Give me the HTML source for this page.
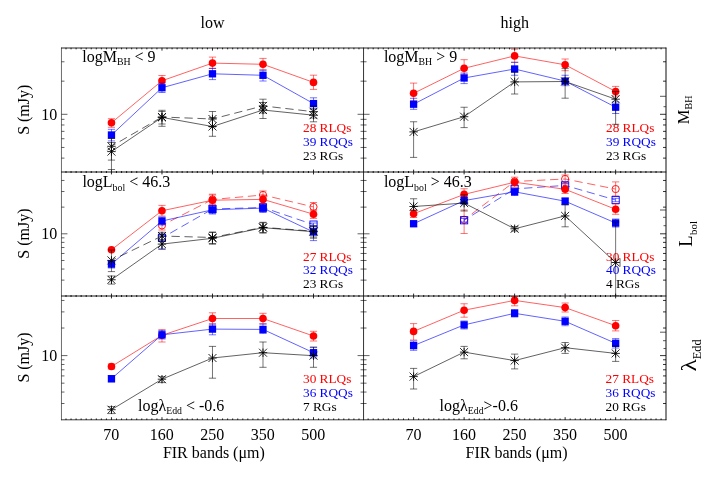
<!DOCTYPE html>
<html><head><meta charset="utf-8"><title>FIR bands</title>
<style>html,body{margin:0;padding:0;background:#fff;}svg{display:block;will-change:transform;}text{font-family:"Liberation Serif",serif;}</style>
</head><body>
<svg width="720" height="480" viewBox="0 0 720 480">
<rect x="0" y="0" width="720" height="480" fill="#ffffff"/>
<text x="212.6" y="28" font-size="16" fill="#000000" text-anchor="middle">low</text>
<text x="514.8" y="28" font-size="16" fill="#000000" text-anchor="middle">high</text>
<text x="0" y="0" font-size="16" fill="#000000" text-anchor="middle" transform="translate(28.6 109.75) rotate(-90)">S (mJy)</text>
<text x="57.2" y="119.7" font-size="16" fill="#000000" text-anchor="end">10</text>
<text x="0" y="0" font-size="16" fill="#000000" text-anchor="middle" transform="translate(28.6 233.65) rotate(-90)">S (mJy)</text>
<text x="57.2" y="239.2" font-size="16" fill="#000000" text-anchor="end">10</text>
<text x="0" y="0" font-size="16" fill="#000000" text-anchor="middle" transform="translate(28.6 357.5) rotate(-90)">S (mJy)</text>
<text x="57.2" y="361" font-size="16" fill="#000000" text-anchor="end">10</text>
<text x="111.26" y="440.1" font-size="16" fill="#000000" text-anchor="middle">70</text>
<text x="161.77" y="440.1" font-size="16" fill="#000000" text-anchor="middle">160</text>
<text x="212.28" y="440.1" font-size="16" fill="#000000" text-anchor="middle">250</text>
<text x="262.79" y="440.1" font-size="16" fill="#000000" text-anchor="middle">350</text>
<text x="313.3" y="440.1" font-size="16" fill="#000000" text-anchor="middle">500</text>
<text x="413.4" y="440.1" font-size="16" fill="#000000" text-anchor="middle">70</text>
<text x="463.91" y="440.1" font-size="16" fill="#000000" text-anchor="middle">160</text>
<text x="514.42" y="440.1" font-size="16" fill="#000000" text-anchor="middle">250</text>
<text x="564.93" y="440.1" font-size="16" fill="#000000" text-anchor="middle">350</text>
<text x="615.44" y="440.1" font-size="16" fill="#000000" text-anchor="middle">500</text>
<text x="162.9" y="457.6" font-size="16" fill="#000000" text-anchor="start">FIR bands (μm)</text>
<text x="465.6" y="457.6" font-size="16" fill="#000000" text-anchor="start">FIR bands (μm)</text>
<text x="82.3" y="61.5" font-size="16" fill="#000000" text-anchor="start">logM<tspan font-size="9.8" dy="3.7">BH</tspan><tspan dy="-3.7"> &lt; 9</tspan></text>
<text x="383.9" y="61.5" font-size="16" fill="#000000" text-anchor="start">logM<tspan font-size="9.8" dy="3.7">BH</tspan><tspan dy="-3.7"> &gt; 9</tspan></text>
<text x="82.4" y="187" font-size="16" fill="#000000" text-anchor="start">logL<tspan font-size="9.8" dy="3.7">bol</tspan><tspan dy="-3.7"> &lt; 46.3</tspan></text>
<text x="383.9" y="187" font-size="16" fill="#000000" text-anchor="start">logL<tspan font-size="9.8" dy="3.7">bol</tspan><tspan dy="-3.7"> &gt; 46.3</tspan></text>
<text x="138" y="410.8" font-size="16" fill="#000000" text-anchor="start">logλ<tspan font-size="9.8" dy="3">Edd</tspan><tspan dy="-3"> &lt; -0.6</tspan></text>
<text x="439.6" y="410.6" font-size="16" fill="#000000" text-anchor="start">logλ<tspan font-size="9.8" dy="3">Edd</tspan><tspan dy="-3">&gt;-0.6</tspan></text>
<text x="303" y="131.5" font-size="13.3" fill="#ff0000" text-anchor="start">28 RLQs</text>
<text x="303" y="145.5" font-size="13.3" fill="#0000ff" text-anchor="start">39 RQQs</text>
<text x="303" y="159.5" font-size="13.3" fill="#000000" text-anchor="start">23 RGs</text>
<text x="606" y="131.5" font-size="13.3" fill="#ff0000" text-anchor="start">28 RLQs</text>
<text x="606" y="145.5" font-size="13.3" fill="#0000ff" text-anchor="start">39 RQQs</text>
<text x="606" y="159.5" font-size="13.3" fill="#000000" text-anchor="start">23 RGs</text>
<text x="303" y="260.9" font-size="13.3" fill="#ff0000" text-anchor="start">27 RLQs</text>
<text x="303" y="274.4" font-size="13.3" fill="#0000ff" text-anchor="start">32 RQQs</text>
<text x="303" y="287.7" font-size="13.3" fill="#000000" text-anchor="start">23 RGs</text>
<text x="606" y="260.9" font-size="13.3" fill="#ff0000" text-anchor="start">30 RLQs</text>
<text x="606" y="274.4" font-size="13.3" fill="#0000ff" text-anchor="start">40 RQQs</text>
<text x="606" y="287.7" font-size="13.3" fill="#000000" text-anchor="start">4 RGs</text>
<text x="303" y="383.4" font-size="13.3" fill="#ff0000" text-anchor="start">30 RLQs</text>
<text x="303" y="396.9" font-size="13.3" fill="#0000ff" text-anchor="start">36 RQQs</text>
<text x="303" y="410.6" font-size="13.3" fill="#000000" text-anchor="start">7 RGs</text>
<text x="605.6" y="383.2" font-size="13.3" fill="#ff0000" text-anchor="start">27 RLQs</text>
<text x="605.6" y="396.8" font-size="13.3" fill="#0000ff" text-anchor="start">36 RQQs</text>
<text x="605.6" y="410.5" font-size="13.3" fill="#000000" text-anchor="start">20 RGs</text>
<text x="0" y="0" font-size="16.5" fill="#000000" text-anchor="start" transform="translate(689.3 124.2) rotate(-90)">M<tspan font-size="10" dy="2.8">BH</tspan></text>
<text x="0" y="0" font-size="18.5" fill="#000000" text-anchor="start" transform="translate(691.9 246.7) rotate(-90)">L</text>
<text x="0" y="0" font-size="10.8" fill="#000000" text-anchor="start" transform="translate(696.6 234.9) rotate(-90)">bol</text>
<text x="0" y="0" font-size="20" fill="#000000" text-anchor="start" transform="translate(695.7 371.5) rotate(-90) scale(1.27 1)">λ</text>
<text x="0" y="0" font-size="12.3" fill="#000000" text-anchor="start" transform="translate(700.5 359.2) rotate(-90)">Edd</text>
<path d="M111.46 122.8 L161.97 80.75 L212.48 63.1 L262.99 64.3 L313.5 82.4" stroke="#ff0000" stroke-width="0.62" fill="none"/>
<path d="M111.46 118.7 V127.3 M107.86 118.7 h7.2 M107.86 127.3 h7.2" stroke="#ff0000" stroke-width="0.55" fill="none"/>
<path d="M161.97 75.5 V86 M158.37 75.5 h7.2 M158.37 86 h7.2" stroke="#ff0000" stroke-width="0.55" fill="none"/>
<path d="M212.48 57.1 V68.4 M208.88 57.1 h7.2 M208.88 68.4 h7.2" stroke="#ff0000" stroke-width="0.55" fill="none"/>
<path d="M262.99 58.4 V69.7 M259.39 58.4 h7.2 M259.39 69.7 h7.2" stroke="#ff0000" stroke-width="0.55" fill="none"/>
<path d="M313.5 75.2 V89.4 M309.9 75.2 h7.2 M309.9 89.4 h7.2" stroke="#ff0000" stroke-width="0.55" fill="none"/>
<circle cx="111.46" cy="122.8" r="3.8" fill="#ff0000"/>
<circle cx="161.97" cy="80.75" r="3.8" fill="#ff0000"/>
<circle cx="212.48" cy="63.1" r="3.8" fill="#ff0000"/>
<circle cx="262.99" cy="64.3" r="3.8" fill="#ff0000"/>
<circle cx="313.5" cy="82.4" r="3.8" fill="#ff0000"/>
<path d="M111.46 135 L161.97 87.75 L212.48 73.8 L262.99 75.3 L313.5 103.6" stroke="#0000ff" stroke-width="0.62" fill="none"/>
<path d="M111.46 129.3 V140.9 M107.86 129.3 h7.2 M107.86 140.9 h7.2" stroke="#0000ff" stroke-width="0.55" fill="none"/>
<path d="M161.97 83 V92.5 M158.37 83 h7.2 M158.37 92.5 h7.2" stroke="#0000ff" stroke-width="0.55" fill="none"/>
<path d="M212.48 68.4 V79.6 M208.88 68.4 h7.2 M208.88 79.6 h7.2" stroke="#0000ff" stroke-width="0.55" fill="none"/>
<path d="M262.99 70.3 V81 M259.39 70.3 h7.2 M259.39 81 h7.2" stroke="#0000ff" stroke-width="0.55" fill="none"/>
<path d="M313.5 97.8 V109 M309.9 97.8 h7.2 M309.9 109 h7.2" stroke="#0000ff" stroke-width="0.55" fill="none"/>
<rect x="107.81" y="131.35" width="7.3" height="7.3" fill="#0000ff"/>
<rect x="158.32" y="84.1" width="7.3" height="7.3" fill="#0000ff"/>
<rect x="208.83" y="70.15" width="7.3" height="7.3" fill="#0000ff"/>
<rect x="259.34" y="71.65" width="7.3" height="7.3" fill="#0000ff"/>
<rect x="309.85" y="99.95" width="7.3" height="7.3" fill="#0000ff"/>
<path d="M111.46 146.3 L161.97 117" stroke="#000000" stroke-width="0.62" fill="none" stroke-dasharray="8.3 4.7" stroke-dashoffset="3.5"/>
<path d="M161.97 117 L212.48 119" stroke="#000000" stroke-width="0.62" fill="none" stroke-dasharray="8.3 4.7" stroke-dashoffset="3.5"/>
<path d="M212.48 119 L262.99 105.9" stroke="#000000" stroke-width="0.62" fill="none" stroke-dasharray="8.3 4.7" stroke-dashoffset="3.5"/>
<path d="M262.99 105.9 L313.5 111.7" stroke="#000000" stroke-width="0.62" fill="none" stroke-dasharray="8.3 4.7" stroke-dashoffset="3.5"/>
<path d="M111.46 138.5 V160.1 M107.86 138.5 h7.2 M107.86 160.1 h7.2" stroke="#000000" stroke-width="0.55" fill="none"/>
<path d="M161.97 111.5 V124 M158.37 111.5 h7.2 M158.37 124 h7.2" stroke="#000000" stroke-width="0.55" fill="none"/>
<path d="M212.48 111.5 V127 M208.88 111.5 h7.2 M208.88 127 h7.2" stroke="#000000" stroke-width="0.55" fill="none"/>
<path d="M262.99 99.2 V113 M259.39 99.2 h7.2 M259.39 113 h7.2" stroke="#000000" stroke-width="0.55" fill="none"/>
<path d="M313.5 106 V118 M309.9 106 h7.2 M309.9 118 h7.2" stroke="#000000" stroke-width="0.55" fill="none"/>
<path d="M107.26 146.3 h8.4 M111.46 142.1 v8.4 M107.47 142.31 l7.98 7.98 M107.47 150.29 l7.98 -7.98" stroke="#000000" stroke-width="0.85" fill="none"/>
<path d="M157.77 117 h8.4 M161.97 112.8 v8.4 M157.98 113.01 l7.98 7.98 M157.98 120.99 l7.98 -7.98" stroke="#000000" stroke-width="0.85" fill="none"/>
<path d="M208.28 119 h8.4 M212.48 114.8 v8.4 M208.49 115.01 l7.98 7.98 M208.49 122.99 l7.98 -7.98" stroke="#000000" stroke-width="0.85" fill="none"/>
<path d="M258.79 105.9 h8.4 M262.99 101.7 v8.4 M259 101.91 l7.98 7.98 M259 109.89 l7.98 -7.98" stroke="#000000" stroke-width="0.85" fill="none"/>
<path d="M309.3 111.7 h8.4 M313.5 107.5 v8.4 M309.51 107.71 l7.98 7.98 M309.51 115.69 l7.98 -7.98" stroke="#000000" stroke-width="0.85" fill="none"/>
<path d="M111.46 151.6 L161.97 117.4 L212.48 126.5 L262.99 110 L313.5 115.2" stroke="#000000" stroke-width="0.62" fill="none"/>
<path d="M111.46 142.5 V169.5 M107.86 142.5 h7.2 M107.86 169.5 h7.2" stroke="#000000" stroke-width="0.55" fill="none"/>
<path d="M161.97 110.3 V126.3 M158.37 110.3 h7.2 M158.37 126.3 h7.2" stroke="#000000" stroke-width="0.55" fill="none"/>
<path d="M212.48 117.5 V136.3 M208.88 117.5 h7.2 M208.88 136.3 h7.2" stroke="#000000" stroke-width="0.55" fill="none"/>
<path d="M262.99 102.5 V118.5 M259.39 102.5 h7.2 M259.39 118.5 h7.2" stroke="#000000" stroke-width="0.55" fill="none"/>
<path d="M313.5 109 V121.8 M309.9 109 h7.2 M309.9 121.8 h7.2" stroke="#000000" stroke-width="0.55" fill="none"/>
<path d="M107.26 151.6 h8.4 M111.46 147.4 v8.4 M107.47 147.61 l7.98 7.98 M107.47 155.59 l7.98 -7.98" stroke="#000000" stroke-width="0.85" fill="none"/>
<path d="M157.77 117.4 h8.4 M161.97 113.2 v8.4 M157.98 113.41 l7.98 7.98 M157.98 121.39 l7.98 -7.98" stroke="#000000" stroke-width="0.85" fill="none"/>
<path d="M208.28 126.5 h8.4 M212.48 122.3 v8.4 M208.49 122.51 l7.98 7.98 M208.49 130.49 l7.98 -7.98" stroke="#000000" stroke-width="0.85" fill="none"/>
<path d="M258.79 110 h8.4 M262.99 105.8 v8.4 M259 106.01 l7.98 7.98 M259 113.99 l7.98 -7.98" stroke="#000000" stroke-width="0.85" fill="none"/>
<path d="M309.3 115.2 h8.4 M313.5 111 v8.4 M309.51 111.21 l7.98 7.98 M309.51 119.19 l7.98 -7.98" stroke="#000000" stroke-width="0.85" fill="none"/>
<path d="M413.6 93.3 L464.11 68.3 L514.62 55.9 L565.13 64.8 L615.64 91.5" stroke="#ff0000" stroke-width="0.62" fill="none"/>
<path d="M413.6 83.1 V101 M410 83.1 h7.2 M410 101 h7.2" stroke="#ff0000" stroke-width="0.55" fill="none"/>
<path d="M464.11 59.7 V74.2 M460.51 59.7 h7.2 M460.51 74.2 h7.2" stroke="#ff0000" stroke-width="0.55" fill="none"/>
<path d="M514.62 49.2 V62.3 M511.02 49.2 h7.2 M511.02 62.3 h7.2" stroke="#ff0000" stroke-width="0.55" fill="none"/>
<path d="M565.13 59 V70.7 M561.53 59 h7.2 M561.53 70.7 h7.2" stroke="#ff0000" stroke-width="0.55" fill="none"/>
<path d="M615.64 86.4 V96 M612.04 86.4 h7.2 M612.04 96 h7.2" stroke="#ff0000" stroke-width="0.55" fill="none"/>
<circle cx="413.6" cy="93.3" r="3.8" fill="#ff0000"/>
<circle cx="464.11" cy="68.3" r="3.8" fill="#ff0000"/>
<circle cx="514.62" cy="55.9" r="3.8" fill="#ff0000"/>
<circle cx="565.13" cy="64.8" r="3.8" fill="#ff0000"/>
<circle cx="615.64" cy="91.5" r="3.8" fill="#ff0000"/>
<path d="M413.6 104.2 L464.11 78 L514.62 69 L565.13 81.1 L615.64 107.2" stroke="#0000ff" stroke-width="0.62" fill="none"/>
<path d="M413.6 98.3 V109.3 M410 98.3 h7.2 M410 109.3 h7.2" stroke="#0000ff" stroke-width="0.55" fill="none"/>
<path d="M464.11 73 V83.6 M460.51 73 h7.2 M460.51 83.6 h7.2" stroke="#0000ff" stroke-width="0.55" fill="none"/>
<path d="M514.62 62.3 V75.25 M511.02 62.3 h7.2 M511.02 75.25 h7.2" stroke="#0000ff" stroke-width="0.55" fill="none"/>
<path d="M565.13 75.25 V85.7 M561.53 75.25 h7.2 M561.53 85.7 h7.2" stroke="#0000ff" stroke-width="0.55" fill="none"/>
<path d="M615.64 101.9 V113.5 M612.04 101.9 h7.2 M612.04 113.5 h7.2" stroke="#0000ff" stroke-width="0.55" fill="none"/>
<rect x="409.95" y="100.55" width="7.3" height="7.3" fill="#0000ff"/>
<rect x="460.46" y="74.35" width="7.3" height="7.3" fill="#0000ff"/>
<rect x="510.97" y="65.35" width="7.3" height="7.3" fill="#0000ff"/>
<rect x="561.48" y="77.45" width="7.3" height="7.3" fill="#0000ff"/>
<rect x="611.99" y="103.55" width="7.3" height="7.3" fill="#0000ff"/>
<path d="M413.6 131.9 L464.11 116.7 L514.62 81.9 L565.13 81.5 L615.64 99.2" stroke="#000000" stroke-width="0.62" fill="none"/>
<path d="M413.6 121.75 V157.4 M410 121.75 h7.2 M410 157.4 h7.2" stroke="#000000" stroke-width="0.55" fill="none"/>
<path d="M464.11 107.25 V127.6 M460.51 107.25 h7.2 M460.51 127.6 h7.2" stroke="#000000" stroke-width="0.55" fill="none"/>
<path d="M514.62 72 V94 M511.02 72 h7.2 M511.02 94 h7.2" stroke="#000000" stroke-width="0.55" fill="none"/>
<path d="M565.13 68.6 V98.2 M561.53 68.6 h7.2 M561.53 98.2 h7.2" stroke="#000000" stroke-width="0.55" fill="none"/>
<path d="M615.64 91.5 V124.3 M612.04 91.5 h7.2 M612.04 124.3 h7.2" stroke="#000000" stroke-width="0.55" fill="none"/>
<path d="M409.4 131.9 h8.4 M413.6 127.7 v8.4 M409.61 127.91 l7.98 7.98 M409.61 135.89 l7.98 -7.98" stroke="#000000" stroke-width="0.85" fill="none"/>
<path d="M459.91 116.7 h8.4 M464.11 112.5 v8.4 M460.12 112.71 l7.98 7.98 M460.12 120.69 l7.98 -7.98" stroke="#000000" stroke-width="0.85" fill="none"/>
<path d="M510.42 81.9 h8.4 M514.62 77.7 v8.4 M510.63 77.91 l7.98 7.98 M510.63 85.89 l7.98 -7.98" stroke="#000000" stroke-width="0.85" fill="none"/>
<path d="M560.93 81.5 h8.4 M565.13 77.3 v8.4 M561.14 77.51 l7.98 7.98 M561.14 85.49 l7.98 -7.98" stroke="#000000" stroke-width="0.85" fill="none"/>
<path d="M611.44 99.2 h8.4 M615.64 95 v8.4 M611.65 95.21 l7.98 7.98 M611.65 103.19 l7.98 -7.98" stroke="#000000" stroke-width="0.85" fill="none"/>
<path d="M161.97 225.4 L212.48 199.5" stroke="#ff0000" stroke-width="0.62" fill="none" stroke-dasharray="8.3 4.7" stroke-dashoffset="3.5"/>
<path d="M212.48 199.5 L262.99 195" stroke="#ff0000" stroke-width="0.62" fill="none" stroke-dasharray="8.3 4.7" stroke-dashoffset="3.5"/>
<path d="M262.99 195 L313.5 206.9" stroke="#ff0000" stroke-width="0.62" fill="none" stroke-dasharray="8.3 4.7" stroke-dashoffset="3.5"/>
<path d="M161.97 221 V230 M158.37 221 h7.2 M158.37 230 h7.2" stroke="#ff0000" stroke-width="0.55" fill="none"/>
<path d="M212.48 195 V204 M208.88 195 h7.2 M208.88 204 h7.2" stroke="#ff0000" stroke-width="0.55" fill="none"/>
<path d="M262.99 191 V199 M259.39 191 h7.2 M259.39 199 h7.2" stroke="#ff0000" stroke-width="0.55" fill="none"/>
<path d="M313.5 202.5 V211 M309.9 202.5 h7.2 M309.9 211 h7.2" stroke="#ff0000" stroke-width="0.55" fill="none"/>
<circle cx="161.97" cy="225.4" r="3.6" fill="none" stroke="#ff0000" stroke-width="0.9"/>
<circle cx="212.48" cy="199.5" r="3.6" fill="none" stroke="#ff0000" stroke-width="0.9"/>
<circle cx="262.99" cy="195" r="3.6" fill="none" stroke="#ff0000" stroke-width="0.9"/>
<circle cx="313.5" cy="206.9" r="3.6" fill="none" stroke="#ff0000" stroke-width="0.9"/>
<path d="M161.97 237.9 L212.48 209" stroke="#0000ff" stroke-width="0.62" fill="none" stroke-dasharray="8.3 4.7" stroke-dashoffset="3.5"/>
<path d="M212.48 209 L262.99 207.5" stroke="#0000ff" stroke-width="0.62" fill="none" stroke-dasharray="8.3 4.7" stroke-dashoffset="3.5"/>
<path d="M262.99 207.5 L313.5 224.6" stroke="#0000ff" stroke-width="0.62" fill="none" stroke-dasharray="8.3 4.7" stroke-dashoffset="3.5"/>
<path d="M161.97 234 V249.1 M158.37 234 h7.2 M158.37 249.1 h7.2" stroke="#0000ff" stroke-width="0.55" fill="none"/>
<path d="M212.48 205.5 V212.5 M208.88 205.5 h7.2 M208.88 212.5 h7.2" stroke="#0000ff" stroke-width="0.55" fill="none"/>
<path d="M262.99 204 V211 M259.39 204 h7.2 M259.39 211 h7.2" stroke="#0000ff" stroke-width="0.55" fill="none"/>
<path d="M313.5 223 V226.2 M309.9 223 h7.2 M309.9 226.2 h7.2" stroke="#0000ff" stroke-width="0.55" fill="none"/>
<rect x="158.37" y="234.3" width="7.2" height="7.2" fill="none" stroke="#0000ff" stroke-width="0.9"/>
<rect x="208.88" y="205.4" width="7.2" height="7.2" fill="none" stroke="#0000ff" stroke-width="0.9"/>
<rect x="259.39" y="203.9" width="7.2" height="7.2" fill="none" stroke="#0000ff" stroke-width="0.9"/>
<rect x="309.9" y="221" width="7.2" height="7.2" fill="none" stroke="#0000ff" stroke-width="0.9"/>
<path d="M111.46 249.75 L161.97 210.75 L212.48 200.2 L262.99 199.4 L313.5 214.2" stroke="#ff0000" stroke-width="0.62" fill="none"/>
<path d="M161.97 205.4 V216 M158.37 205.4 h7.2 M158.37 216 h7.2" stroke="#ff0000" stroke-width="0.55" fill="none"/>
<path d="M212.48 194.2 V205.5 M208.88 194.2 h7.2 M208.88 205.5 h7.2" stroke="#ff0000" stroke-width="0.55" fill="none"/>
<path d="M262.99 195 V204 M259.39 195 h7.2 M259.39 204 h7.2" stroke="#ff0000" stroke-width="0.55" fill="none"/>
<path d="M313.5 210 V218.4 M309.9 210 h7.2 M309.9 218.4 h7.2" stroke="#ff0000" stroke-width="0.55" fill="none"/>
<circle cx="111.46" cy="249.75" r="3.8" fill="#ff0000"/>
<circle cx="161.97" cy="210.75" r="3.8" fill="#ff0000"/>
<circle cx="212.48" cy="200.2" r="3.8" fill="#ff0000"/>
<circle cx="262.99" cy="199.4" r="3.8" fill="#ff0000"/>
<circle cx="313.5" cy="214.2" r="3.8" fill="#ff0000"/>
<path d="M111.46 264.1 L161.97 221 L212.48 209.8 L262.99 208.1 L313.5 232" stroke="#0000ff" stroke-width="0.62" fill="none"/>
<path d="M111.46 261 V268 M107.86 261 h7.2 M107.86 268 h7.2" stroke="#0000ff" stroke-width="0.55" fill="none"/>
<path d="M161.97 217 V225 M158.37 217 h7.2 M158.37 225 h7.2" stroke="#0000ff" stroke-width="0.55" fill="none"/>
<path d="M212.48 205 V214 M208.88 205 h7.2 M208.88 214 h7.2" stroke="#0000ff" stroke-width="0.55" fill="none"/>
<path d="M262.99 204 V212.5 M259.39 204 h7.2 M259.39 212.5 h7.2" stroke="#0000ff" stroke-width="0.55" fill="none"/>
<path d="M313.5 226 V240.6 M309.9 226 h7.2 M309.9 240.6 h7.2" stroke="#0000ff" stroke-width="0.55" fill="none"/>
<rect x="107.81" y="260.45" width="7.3" height="7.3" fill="#0000ff"/>
<rect x="158.32" y="217.35" width="7.3" height="7.3" fill="#0000ff"/>
<rect x="208.83" y="206.15" width="7.3" height="7.3" fill="#0000ff"/>
<rect x="259.34" y="204.45" width="7.3" height="7.3" fill="#0000ff"/>
<rect x="309.85" y="228.35" width="7.3" height="7.3" fill="#0000ff"/>
<path d="M111.46 260.4 L161.97 236" stroke="#000000" stroke-width="0.62" fill="none" stroke-dasharray="8.3 4.7" stroke-dashoffset="3.5"/>
<path d="M161.97 236 L212.48 237.5" stroke="#000000" stroke-width="0.62" fill="none" stroke-dasharray="8.3 4.7" stroke-dashoffset="3.5"/>
<path d="M212.48 237.5 L262.99 227.3" stroke="#000000" stroke-width="0.62" fill="none" stroke-dasharray="8.3 4.7" stroke-dashoffset="3.5"/>
<path d="M262.99 227.3 L313.5 231.2" stroke="#000000" stroke-width="0.62" fill="none" stroke-dasharray="8.3 4.7" stroke-dashoffset="3.5"/>
<path d="M111.46 250 V271.6 M107.86 250 h7.2 M107.86 271.6 h7.2" stroke="#000000" stroke-width="0.55" fill="none"/>
<path d="M161.97 232.25 V240.5 M158.37 232.25 h7.2 M158.37 240.5 h7.2" stroke="#000000" stroke-width="0.55" fill="none"/>
<path d="M212.48 232 V243.5 M208.88 232 h7.2 M208.88 243.5 h7.2" stroke="#000000" stroke-width="0.55" fill="none"/>
<path d="M262.99 222.3 V232.5 M259.39 222.3 h7.2 M259.39 232.5 h7.2" stroke="#000000" stroke-width="0.55" fill="none"/>
<path d="M313.5 226 V237 M309.9 226 h7.2 M309.9 237 h7.2" stroke="#000000" stroke-width="0.55" fill="none"/>
<path d="M107.26 260.4 h8.4 M111.46 256.2 v8.4 M107.47 256.41 l7.98 7.98 M107.47 264.39 l7.98 -7.98" stroke="#000000" stroke-width="0.85" fill="none"/>
<path d="M157.77 236 h8.4 M161.97 231.8 v8.4 M157.98 232.01 l7.98 7.98 M157.98 239.99 l7.98 -7.98" stroke="#000000" stroke-width="0.85" fill="none"/>
<path d="M208.28 237.5 h8.4 M212.48 233.3 v8.4 M208.49 233.51 l7.98 7.98 M208.49 241.49 l7.98 -7.98" stroke="#000000" stroke-width="0.85" fill="none"/>
<path d="M258.79 227.3 h8.4 M262.99 223.1 v8.4 M259 223.31 l7.98 7.98 M259 231.29 l7.98 -7.98" stroke="#000000" stroke-width="0.85" fill="none"/>
<path d="M309.3 231.2 h8.4 M313.5 227 v8.4 M309.51 227.21 l7.98 7.98 M309.51 235.19 l7.98 -7.98" stroke="#000000" stroke-width="0.85" fill="none"/>
<path d="M111.46 279.75 L161.97 244.1 L212.48 238.3 L262.99 227.7 L313.5 231.7" stroke="#000000" stroke-width="0.62" fill="none"/>
<path d="M111.46 276 V284.1 M107.86 276 h7.2 M107.86 284.1 h7.2" stroke="#000000" stroke-width="0.55" fill="none"/>
<path d="M161.97 239.5 V249.1 M158.37 239.5 h7.2 M158.37 249.1 h7.2" stroke="#000000" stroke-width="0.55" fill="none"/>
<path d="M212.48 232.5 V244.2 M208.88 232.5 h7.2 M208.88 244.2 h7.2" stroke="#000000" stroke-width="0.55" fill="none"/>
<path d="M262.99 222.8 V233.1 M259.39 222.8 h7.2 M259.39 233.1 h7.2" stroke="#000000" stroke-width="0.55" fill="none"/>
<path d="M313.5 226 V238.2 M309.9 226 h7.2 M309.9 238.2 h7.2" stroke="#000000" stroke-width="0.55" fill="none"/>
<path d="M107.26 279.75 h8.4 M111.46 275.55 v8.4 M107.47 275.76 l7.98 7.98 M107.47 283.74 l7.98 -7.98" stroke="#000000" stroke-width="0.85" fill="none"/>
<path d="M157.77 244.1 h8.4 M161.97 239.9 v8.4 M157.98 240.11 l7.98 7.98 M157.98 248.09 l7.98 -7.98" stroke="#000000" stroke-width="0.85" fill="none"/>
<path d="M208.28 238.3 h8.4 M212.48 234.1 v8.4 M208.49 234.31 l7.98 7.98 M208.49 242.29 l7.98 -7.98" stroke="#000000" stroke-width="0.85" fill="none"/>
<path d="M258.79 227.7 h8.4 M262.99 223.5 v8.4 M259 223.71 l7.98 7.98 M259 231.69 l7.98 -7.98" stroke="#000000" stroke-width="0.85" fill="none"/>
<path d="M309.3 231.7 h8.4 M313.5 227.5 v8.4 M309.51 227.71 l7.98 7.98 M309.51 235.69 l7.98 -7.98" stroke="#000000" stroke-width="0.85" fill="none"/>
<path d="M464.11 219.75 L514.62 181.5" stroke="#ff0000" stroke-width="0.62" fill="none" stroke-dasharray="8.3 4.7" stroke-dashoffset="3.5"/>
<path d="M514.62 181.5 L565.13 179" stroke="#ff0000" stroke-width="0.62" fill="none" stroke-dasharray="8.3 4.7" stroke-dashoffset="3.5"/>
<path d="M565.13 179 L615.64 189.05" stroke="#ff0000" stroke-width="0.62" fill="none" stroke-dasharray="8.3 4.7" stroke-dashoffset="3.5"/>
<path d="M464.11 210 V233.5 M460.51 210 h7.2 M460.51 233.5 h7.2" stroke="#ff0000" stroke-width="0.55" fill="none"/>
<path d="M565.13 175 V183 M561.53 175 h7.2 M561.53 183 h7.2" stroke="#ff0000" stroke-width="0.55" fill="none"/>
<path d="M615.64 181.9 V196 M612.04 181.9 h7.2 M612.04 196 h7.2" stroke="#ff0000" stroke-width="0.55" fill="none"/>
<circle cx="464.11" cy="219.75" r="3.6" fill="none" stroke="#ff0000" stroke-width="0.9"/>
<circle cx="514.62" cy="181.5" r="3.6" fill="none" stroke="#ff0000" stroke-width="0.9"/>
<circle cx="565.13" cy="179" r="3.6" fill="none" stroke="#ff0000" stroke-width="0.9"/>
<circle cx="615.64" cy="189.05" r="3.6" fill="none" stroke="#ff0000" stroke-width="0.9"/>
<path d="M464.11 220.25 L514.62 188.9" stroke="#0000ff" stroke-width="0.62" fill="none" stroke-dasharray="8.3 4.7" stroke-dashoffset="3.5"/>
<path d="M514.62 188.9 L565.13 185.4" stroke="#0000ff" stroke-width="0.62" fill="none" stroke-dasharray="8.3 4.7" stroke-dashoffset="3.5"/>
<path d="M565.13 185.4 L615.64 200" stroke="#0000ff" stroke-width="0.62" fill="none" stroke-dasharray="8.3 4.7" stroke-dashoffset="3.5"/>
<path d="M464.11 218.5 V222 M460.51 218.5 h7.2 M460.51 222 h7.2" stroke="#0000ff" stroke-width="0.55" fill="none"/>
<path d="M565.13 183.6 V187.2 M561.53 183.6 h7.2 M561.53 187.2 h7.2" stroke="#0000ff" stroke-width="0.55" fill="none"/>
<path d="M615.64 198.3 V201.7 M612.04 198.3 h7.2 M612.04 201.7 h7.2" stroke="#0000ff" stroke-width="0.55" fill="none"/>
<rect x="460.51" y="216.65" width="7.2" height="7.2" fill="none" stroke="#0000ff" stroke-width="0.9"/>
<rect x="511.02" y="185.3" width="7.2" height="7.2" fill="none" stroke="#0000ff" stroke-width="0.9"/>
<rect x="561.53" y="181.8" width="7.2" height="7.2" fill="none" stroke="#0000ff" stroke-width="0.9"/>
<rect x="612.04" y="196.4" width="7.2" height="7.2" fill="none" stroke="#0000ff" stroke-width="0.9"/>
<path d="M413.6 213.75 L464.11 194.4 L514.62 182.2 L565.13 189.3 L615.64 209.3" stroke="#ff0000" stroke-width="0.62" fill="none"/>
<path d="M413.6 210 V217.5 M410 210 h7.2 M410 217.5 h7.2" stroke="#ff0000" stroke-width="0.55" fill="none"/>
<path d="M464.11 188.75 V200 M460.51 188.75 h7.2 M460.51 200 h7.2" stroke="#ff0000" stroke-width="0.55" fill="none"/>
<path d="M514.62 177.2 V187 M511.02 177.2 h7.2 M511.02 187 h7.2" stroke="#ff0000" stroke-width="0.55" fill="none"/>
<path d="M565.13 185 V193.5 M561.53 185 h7.2 M561.53 193.5 h7.2" stroke="#ff0000" stroke-width="0.55" fill="none"/>
<path d="M615.64 204 V214.3 M612.04 204 h7.2 M612.04 214.3 h7.2" stroke="#ff0000" stroke-width="0.55" fill="none"/>
<circle cx="413.6" cy="213.75" r="3.8" fill="#ff0000"/>
<circle cx="464.11" cy="194.4" r="3.8" fill="#ff0000"/>
<circle cx="514.62" cy="182.2" r="3.8" fill="#ff0000"/>
<circle cx="565.13" cy="189.3" r="3.8" fill="#ff0000"/>
<circle cx="615.64" cy="209.3" r="3.8" fill="#ff0000"/>
<path d="M413.6 223.75 L464.11 200.6 L514.62 191.8 L565.13 201.2 L615.64 223" stroke="#0000ff" stroke-width="0.62" fill="none"/>
<path d="M413.6 221 V226.5 M410 221 h7.2 M410 226.5 h7.2" stroke="#0000ff" stroke-width="0.55" fill="none"/>
<path d="M464.11 197 V204 M460.51 197 h7.2 M460.51 204 h7.2" stroke="#0000ff" stroke-width="0.55" fill="none"/>
<path d="M514.62 188 V195.5 M511.02 188 h7.2 M511.02 195.5 h7.2" stroke="#0000ff" stroke-width="0.55" fill="none"/>
<path d="M565.13 198 V204.5 M561.53 198 h7.2 M561.53 204.5 h7.2" stroke="#0000ff" stroke-width="0.55" fill="none"/>
<path d="M615.64 219 V227 M612.04 219 h7.2 M612.04 227 h7.2" stroke="#0000ff" stroke-width="0.55" fill="none"/>
<rect x="409.95" y="220.1" width="7.3" height="7.3" fill="#0000ff"/>
<rect x="460.46" y="196.95" width="7.3" height="7.3" fill="#0000ff"/>
<rect x="510.97" y="188.15" width="7.3" height="7.3" fill="#0000ff"/>
<rect x="561.48" y="197.55" width="7.3" height="7.3" fill="#0000ff"/>
<rect x="611.99" y="219.35" width="7.3" height="7.3" fill="#0000ff"/>
<path d="M413.6 206.5 L464.11 203.1 L514.62 228.8 L565.13 215.9 L615.64 262.5" stroke="#000000" stroke-width="0.62" fill="none"/>
<path d="M413.6 198.75 V210.4 M410 198.75 h7.2 M410 210.4 h7.2" stroke="#000000" stroke-width="0.55" fill="none"/>
<path d="M464.11 194.75 V211 M460.51 194.75 h7.2 M460.51 211 h7.2" stroke="#000000" stroke-width="0.55" fill="none"/>
<path d="M514.62 226.5 V231 M511.02 226.5 h7.2 M511.02 231 h7.2" stroke="#000000" stroke-width="0.55" fill="none"/>
<path d="M565.13 205 V226.8 M561.53 205 h7.2 M561.53 226.8 h7.2" stroke="#000000" stroke-width="0.55" fill="none"/>
<path d="M615.64 222 V295.8 M612.04 222 h7.2 M612.04 295.8 h7.2" stroke="#000000" stroke-width="0.55" fill="none"/>
<path d="M409.4 206.5 h8.4 M413.6 202.3 v8.4 M409.61 202.51 l7.98 7.98 M409.61 210.49 l7.98 -7.98" stroke="#000000" stroke-width="0.85" fill="none"/>
<path d="M459.91 203.1 h8.4 M464.11 198.9 v8.4 M460.12 199.11 l7.98 7.98 M460.12 207.09 l7.98 -7.98" stroke="#000000" stroke-width="0.85" fill="none"/>
<path d="M510.42 228.8 h8.4 M514.62 224.6 v8.4 M510.63 224.81 l7.98 7.98 M510.63 232.79 l7.98 -7.98" stroke="#000000" stroke-width="0.85" fill="none"/>
<path d="M560.93 215.9 h8.4 M565.13 211.7 v8.4 M561.14 211.91 l7.98 7.98 M561.14 219.89 l7.98 -7.98" stroke="#000000" stroke-width="0.85" fill="none"/>
<path d="M611.44 262.5 h8.4 M615.64 258.3 v8.4 M611.65 258.51 l7.98 7.98 M611.65 266.49 l7.98 -7.98" stroke="#000000" stroke-width="0.85" fill="none"/>
<path d="M611.24 258.4 v8.2 M620.04 258.4 v8.2" stroke="#000" stroke-width="0.6" fill="none"/>
<path d="M111.46 366.5 L161.97 335.3 L212.48 318.5 L262.99 318.5 L313.5 336" stroke="#ff0000" stroke-width="0.62" fill="none"/>
<path d="M111.46 364 V369 M107.86 364 h7.2 M107.86 369 h7.2" stroke="#ff0000" stroke-width="0.55" fill="none"/>
<path d="M161.97 329.6 V342 M158.37 329.6 h7.2 M158.37 342 h7.2" stroke="#ff0000" stroke-width="0.55" fill="none"/>
<path d="M212.48 312.8 V324 M208.88 312.8 h7.2 M208.88 324 h7.2" stroke="#ff0000" stroke-width="0.55" fill="none"/>
<path d="M262.99 313.3 V323.8 M259.39 313.3 h7.2 M259.39 323.8 h7.2" stroke="#ff0000" stroke-width="0.55" fill="none"/>
<path d="M313.5 331.3 V341 M309.9 331.3 h7.2 M309.9 341 h7.2" stroke="#ff0000" stroke-width="0.55" fill="none"/>
<circle cx="111.46" cy="366.5" r="3.8" fill="#ff0000"/>
<circle cx="161.97" cy="335.3" r="3.8" fill="#ff0000"/>
<circle cx="212.48" cy="318.5" r="3.8" fill="#ff0000"/>
<circle cx="262.99" cy="318.5" r="3.8" fill="#ff0000"/>
<circle cx="313.5" cy="336" r="3.8" fill="#ff0000"/>
<path d="M111.46 378.7 L161.97 334.8 L212.48 329.1 L262.99 329.4 L313.5 352.7" stroke="#0000ff" stroke-width="0.62" fill="none"/>
<path d="M111.46 375.5 V382 M107.86 375.5 h7.2 M107.86 382 h7.2" stroke="#0000ff" stroke-width="0.55" fill="none"/>
<path d="M161.97 330.5 V339 M158.37 330.5 h7.2 M158.37 339 h7.2" stroke="#0000ff" stroke-width="0.55" fill="none"/>
<path d="M212.48 324 V334.8 M208.88 324 h7.2 M208.88 334.8 h7.2" stroke="#0000ff" stroke-width="0.55" fill="none"/>
<path d="M262.99 324 V333.5 M259.39 324 h7.2 M259.39 333.5 h7.2" stroke="#0000ff" stroke-width="0.55" fill="none"/>
<path d="M313.5 347.6 V358 M309.9 347.6 h7.2 M309.9 358 h7.2" stroke="#0000ff" stroke-width="0.55" fill="none"/>
<rect x="107.81" y="375.05" width="7.3" height="7.3" fill="#0000ff"/>
<rect x="158.32" y="331.15" width="7.3" height="7.3" fill="#0000ff"/>
<rect x="208.83" y="325.45" width="7.3" height="7.3" fill="#0000ff"/>
<rect x="259.34" y="325.75" width="7.3" height="7.3" fill="#0000ff"/>
<rect x="309.85" y="349.05" width="7.3" height="7.3" fill="#0000ff"/>
<path d="M111.46 409.7 L161.97 379.2 L212.48 358 L262.99 352.7 L313.5 355.7" stroke="#000000" stroke-width="0.62" fill="none"/>
<path d="M111.46 406.6 V413.6 M107.86 406.6 h7.2 M107.86 413.6 h7.2" stroke="#000000" stroke-width="0.55" fill="none"/>
<path d="M161.97 376.6 V382.6 M158.37 376.6 h7.2 M158.37 382.6 h7.2" stroke="#000000" stroke-width="0.55" fill="none"/>
<path d="M212.48 346.4 V378.2 M208.88 346.4 h7.2 M208.88 378.2 h7.2" stroke="#000000" stroke-width="0.55" fill="none"/>
<path d="M262.99 342 V367.3 M259.39 342 h7.2 M259.39 367.3 h7.2" stroke="#000000" stroke-width="0.55" fill="none"/>
<path d="M313.5 347 V367.3 M309.9 347 h7.2 M309.9 367.3 h7.2" stroke="#000000" stroke-width="0.55" fill="none"/>
<path d="M107.26 409.7 h8.4 M111.46 405.5 v8.4 M107.47 405.71 l7.98 7.98 M107.47 413.69 l7.98 -7.98" stroke="#000000" stroke-width="0.85" fill="none"/>
<path d="M157.77 379.2 h8.4 M161.97 375 v8.4 M157.98 375.21 l7.98 7.98 M157.98 383.19 l7.98 -7.98" stroke="#000000" stroke-width="0.85" fill="none"/>
<path d="M208.28 358 h8.4 M212.48 353.8 v8.4 M208.49 354.01 l7.98 7.98 M208.49 361.99 l7.98 -7.98" stroke="#000000" stroke-width="0.85" fill="none"/>
<path d="M258.79 352.7 h8.4 M262.99 348.5 v8.4 M259 348.71 l7.98 7.98 M259 356.69 l7.98 -7.98" stroke="#000000" stroke-width="0.85" fill="none"/>
<path d="M309.3 355.7 h8.4 M313.5 351.5 v8.4 M309.51 351.71 l7.98 7.98 M309.51 359.69 l7.98 -7.98" stroke="#000000" stroke-width="0.85" fill="none"/>
<path d="M413.6 331.4 L464.11 310.2 L514.62 300.4 L565.13 307.6 L615.64 325.7" stroke="#ff0000" stroke-width="0.62" fill="none"/>
<path d="M413.6 323.6 V340 M410 323.6 h7.2 M410 340 h7.2" stroke="#ff0000" stroke-width="0.55" fill="none"/>
<path d="M464.11 303.75 V317.2 M460.51 303.75 h7.2 M460.51 317.2 h7.2" stroke="#ff0000" stroke-width="0.55" fill="none"/>
<path d="M514.62 296.5 V305.8 M511.02 296.5 h7.2 M511.02 305.8 h7.2" stroke="#ff0000" stroke-width="0.55" fill="none"/>
<path d="M565.13 303 V312 M561.53 303 h7.2 M561.53 312 h7.2" stroke="#ff0000" stroke-width="0.55" fill="none"/>
<path d="M615.64 320.5 V330.9 M612.04 320.5 h7.2 M612.04 330.9 h7.2" stroke="#ff0000" stroke-width="0.55" fill="none"/>
<circle cx="413.6" cy="331.4" r="3.8" fill="#ff0000"/>
<circle cx="464.11" cy="310.2" r="3.8" fill="#ff0000"/>
<circle cx="514.62" cy="300.4" r="3.8" fill="#ff0000"/>
<circle cx="565.13" cy="307.6" r="3.8" fill="#ff0000"/>
<circle cx="615.64" cy="325.7" r="3.8" fill="#ff0000"/>
<path d="M413.6 345.6 L464.11 324.9 L514.62 313.3 L565.13 321.3 L615.64 343.3" stroke="#0000ff" stroke-width="0.62" fill="none"/>
<path d="M413.6 341 V350.3 M410 341 h7.2 M410 350.3 h7.2" stroke="#0000ff" stroke-width="0.55" fill="none"/>
<path d="M464.11 321 V329 M460.51 321 h7.2 M460.51 329 h7.2" stroke="#0000ff" stroke-width="0.55" fill="none"/>
<path d="M514.62 309.5 V317 M511.02 309.5 h7.2 M511.02 317 h7.2" stroke="#0000ff" stroke-width="0.55" fill="none"/>
<path d="M565.13 317 V325.7 M561.53 317 h7.2 M561.53 325.7 h7.2" stroke="#0000ff" stroke-width="0.55" fill="none"/>
<path d="M615.64 338.6 V348 M612.04 338.6 h7.2 M612.04 348 h7.2" stroke="#0000ff" stroke-width="0.55" fill="none"/>
<rect x="409.95" y="341.95" width="7.3" height="7.3" fill="#0000ff"/>
<rect x="460.46" y="321.25" width="7.3" height="7.3" fill="#0000ff"/>
<rect x="510.97" y="309.65" width="7.3" height="7.3" fill="#0000ff"/>
<rect x="561.48" y="317.65" width="7.3" height="7.3" fill="#0000ff"/>
<rect x="611.99" y="339.65" width="7.3" height="7.3" fill="#0000ff"/>
<path d="M413.6 376.6 L464.11 352.1 L514.62 360.6 L565.13 347.7 L615.64 353.4" stroke="#000000" stroke-width="0.62" fill="none"/>
<path d="M413.6 368.4 V389 M410 368.4 h7.2 M410 389 h7.2" stroke="#000000" stroke-width="0.55" fill="none"/>
<path d="M464.11 346.4 V358.8 M460.51 346.4 h7.2 M460.51 358.8 h7.2" stroke="#000000" stroke-width="0.55" fill="none"/>
<path d="M514.62 354.1 V368.9 M511.02 354.1 h7.2 M511.02 368.9 h7.2" stroke="#000000" stroke-width="0.55" fill="none"/>
<path d="M565.13 342.5 V353.4 M561.53 342.5 h7.2 M561.53 353.4 h7.2" stroke="#000000" stroke-width="0.55" fill="none"/>
<path d="M615.64 346 V361.4 M612.04 346 h7.2 M612.04 361.4 h7.2" stroke="#000000" stroke-width="0.55" fill="none"/>
<path d="M409.4 376.6 h8.4 M413.6 372.4 v8.4 M409.61 372.61 l7.98 7.98 M409.61 380.59 l7.98 -7.98" stroke="#000000" stroke-width="0.85" fill="none"/>
<path d="M459.91 352.1 h8.4 M464.11 347.9 v8.4 M460.12 348.11 l7.98 7.98 M460.12 356.09 l7.98 -7.98" stroke="#000000" stroke-width="0.85" fill="none"/>
<path d="M510.42 360.6 h8.4 M514.62 356.4 v8.4 M510.63 356.61 l7.98 7.98 M510.63 364.59 l7.98 -7.98" stroke="#000000" stroke-width="0.85" fill="none"/>
<path d="M560.93 347.7 h8.4 M565.13 343.5 v8.4 M561.14 343.71 l7.98 7.98 M561.14 351.69 l7.98 -7.98" stroke="#000000" stroke-width="0.85" fill="none"/>
<path d="M611.44 353.4 h8.4 M615.64 349.2 v8.4 M611.65 349.41 l7.98 7.98 M611.65 357.39 l7.98 -7.98" stroke="#000000" stroke-width="0.85" fill="none"/>
<g stroke="#000000" fill="none">
<path d="M61.46 47.6 V420.2" stroke-width="0.58"/>
<path d="M363.55 47.6 V420.2" stroke-width="0.8"/>
<path d="M666 47.6 V420.2" stroke-width="0.95"/>
<path d="M61.1 48 H666.3" stroke-width="0.85"/>
<path d="M61.1 172 H666.3" stroke-width="0.9"/>
<path d="M61.1 296 H666.3" stroke-width="0.9"/>
<path d="M61.1 419.8 H666.3" stroke-width="0.75"/>
</g>
<g stroke="#000000" stroke-width="0.85" fill="none">
<path d="M66 47.8 v1.55"/>
<path d="M66 171 v2"/>
<path d="M66 295 v2"/>
<path d="M66 420 v-1.55"/>
<path d="M71.05 47.8 v1.55"/>
<path d="M71.05 171 v2"/>
<path d="M71.05 295 v2"/>
<path d="M71.05 420 v-1.55"/>
<path d="M76.1 47.8 v1.55"/>
<path d="M76.1 171 v2"/>
<path d="M76.1 295 v2"/>
<path d="M76.1 420 v-1.55"/>
<path d="M81.15 47.8 v1.55"/>
<path d="M81.15 171 v2"/>
<path d="M81.15 295 v2"/>
<path d="M81.15 420 v-1.55"/>
<path d="M86.2 47.8 v1.55"/>
<path d="M86.2 171 v2"/>
<path d="M86.2 295 v2"/>
<path d="M86.2 420 v-1.55"/>
<path d="M91.26 47.8 v1.55"/>
<path d="M91.26 171 v2"/>
<path d="M91.26 295 v2"/>
<path d="M91.26 420 v-1.55"/>
<path d="M96.31 47.8 v1.55"/>
<path d="M96.31 171 v2"/>
<path d="M96.31 295 v2"/>
<path d="M96.31 420 v-1.55"/>
<path d="M101.36 47.8 v1.55"/>
<path d="M101.36 171 v2"/>
<path d="M101.36 295 v2"/>
<path d="M101.36 420 v-1.55"/>
<path d="M106.41 47.8 v1.55"/>
<path d="M106.41 171 v2"/>
<path d="M106.41 295 v2"/>
<path d="M106.41 420 v-1.55"/>
<path d="M111.46 47.8 v2.8"/>
<path d="M111.46 169.6 v4.8"/>
<path d="M111.46 293.6 v4.8"/>
<path d="M111.46 420 v-2.8"/>
<path d="M116.51 47.8 v1.55"/>
<path d="M116.51 171 v2"/>
<path d="M116.51 295 v2"/>
<path d="M116.51 420 v-1.55"/>
<path d="M121.56 47.8 v1.55"/>
<path d="M121.56 171 v2"/>
<path d="M121.56 295 v2"/>
<path d="M121.56 420 v-1.55"/>
<path d="M126.61 47.8 v1.55"/>
<path d="M126.61 171 v2"/>
<path d="M126.61 295 v2"/>
<path d="M126.61 420 v-1.55"/>
<path d="M131.66 47.8 v1.55"/>
<path d="M131.66 171 v2"/>
<path d="M131.66 295 v2"/>
<path d="M131.66 420 v-1.55"/>
<path d="M136.72 47.8 v1.55"/>
<path d="M136.72 171 v2"/>
<path d="M136.72 295 v2"/>
<path d="M136.72 420 v-1.55"/>
<path d="M141.77 47.8 v1.55"/>
<path d="M141.77 171 v2"/>
<path d="M141.77 295 v2"/>
<path d="M141.77 420 v-1.55"/>
<path d="M146.82 47.8 v1.55"/>
<path d="M146.82 171 v2"/>
<path d="M146.82 295 v2"/>
<path d="M146.82 420 v-1.55"/>
<path d="M151.87 47.8 v1.55"/>
<path d="M151.87 171 v2"/>
<path d="M151.87 295 v2"/>
<path d="M151.87 420 v-1.55"/>
<path d="M156.92 47.8 v1.55"/>
<path d="M156.92 171 v2"/>
<path d="M156.92 295 v2"/>
<path d="M156.92 420 v-1.55"/>
<path d="M161.97 47.8 v2.8"/>
<path d="M161.97 169.6 v4.8"/>
<path d="M161.97 293.6 v4.8"/>
<path d="M161.97 420 v-2.8"/>
<path d="M167.02 47.8 v1.55"/>
<path d="M167.02 171 v2"/>
<path d="M167.02 295 v2"/>
<path d="M167.02 420 v-1.55"/>
<path d="M172.07 47.8 v1.55"/>
<path d="M172.07 171 v2"/>
<path d="M172.07 295 v2"/>
<path d="M172.07 420 v-1.55"/>
<path d="M177.12 47.8 v1.55"/>
<path d="M177.12 171 v2"/>
<path d="M177.12 295 v2"/>
<path d="M177.12 420 v-1.55"/>
<path d="M182.17 47.8 v1.55"/>
<path d="M182.17 171 v2"/>
<path d="M182.17 295 v2"/>
<path d="M182.17 420 v-1.55"/>
<path d="M187.22 47.8 v1.55"/>
<path d="M187.22 171 v2"/>
<path d="M187.22 295 v2"/>
<path d="M187.22 420 v-1.55"/>
<path d="M192.28 47.8 v1.55"/>
<path d="M192.28 171 v2"/>
<path d="M192.28 295 v2"/>
<path d="M192.28 420 v-1.55"/>
<path d="M197.33 47.8 v1.55"/>
<path d="M197.33 171 v2"/>
<path d="M197.33 295 v2"/>
<path d="M197.33 420 v-1.55"/>
<path d="M202.38 47.8 v1.55"/>
<path d="M202.38 171 v2"/>
<path d="M202.38 295 v2"/>
<path d="M202.38 420 v-1.55"/>
<path d="M207.43 47.8 v1.55"/>
<path d="M207.43 171 v2"/>
<path d="M207.43 295 v2"/>
<path d="M207.43 420 v-1.55"/>
<path d="M212.48 47.8 v2.8"/>
<path d="M212.48 169.6 v4.8"/>
<path d="M212.48 293.6 v4.8"/>
<path d="M212.48 420 v-2.8"/>
<path d="M217.53 47.8 v1.55"/>
<path d="M217.53 171 v2"/>
<path d="M217.53 295 v2"/>
<path d="M217.53 420 v-1.55"/>
<path d="M222.58 47.8 v1.55"/>
<path d="M222.58 171 v2"/>
<path d="M222.58 295 v2"/>
<path d="M222.58 420 v-1.55"/>
<path d="M227.63 47.8 v1.55"/>
<path d="M227.63 171 v2"/>
<path d="M227.63 295 v2"/>
<path d="M227.63 420 v-1.55"/>
<path d="M232.68 47.8 v1.55"/>
<path d="M232.68 171 v2"/>
<path d="M232.68 295 v2"/>
<path d="M232.68 420 v-1.55"/>
<path d="M237.74 47.8 v1.55"/>
<path d="M237.74 171 v2"/>
<path d="M237.74 295 v2"/>
<path d="M237.74 420 v-1.55"/>
<path d="M242.79 47.8 v1.55"/>
<path d="M242.79 171 v2"/>
<path d="M242.79 295 v2"/>
<path d="M242.79 420 v-1.55"/>
<path d="M247.84 47.8 v1.55"/>
<path d="M247.84 171 v2"/>
<path d="M247.84 295 v2"/>
<path d="M247.84 420 v-1.55"/>
<path d="M252.89 47.8 v1.55"/>
<path d="M252.89 171 v2"/>
<path d="M252.89 295 v2"/>
<path d="M252.89 420 v-1.55"/>
<path d="M257.94 47.8 v1.55"/>
<path d="M257.94 171 v2"/>
<path d="M257.94 295 v2"/>
<path d="M257.94 420 v-1.55"/>
<path d="M262.99 47.8 v2.8"/>
<path d="M262.99 169.6 v4.8"/>
<path d="M262.99 293.6 v4.8"/>
<path d="M262.99 420 v-2.8"/>
<path d="M268.04 47.8 v1.55"/>
<path d="M268.04 171 v2"/>
<path d="M268.04 295 v2"/>
<path d="M268.04 420 v-1.55"/>
<path d="M273.09 47.8 v1.55"/>
<path d="M273.09 171 v2"/>
<path d="M273.09 295 v2"/>
<path d="M273.09 420 v-1.55"/>
<path d="M278.14 47.8 v1.55"/>
<path d="M278.14 171 v2"/>
<path d="M278.14 295 v2"/>
<path d="M278.14 420 v-1.55"/>
<path d="M283.19 47.8 v1.55"/>
<path d="M283.19 171 v2"/>
<path d="M283.19 295 v2"/>
<path d="M283.19 420 v-1.55"/>
<path d="M288.25 47.8 v1.55"/>
<path d="M288.25 171 v2"/>
<path d="M288.25 295 v2"/>
<path d="M288.25 420 v-1.55"/>
<path d="M293.3 47.8 v1.55"/>
<path d="M293.3 171 v2"/>
<path d="M293.3 295 v2"/>
<path d="M293.3 420 v-1.55"/>
<path d="M298.35 47.8 v1.55"/>
<path d="M298.35 171 v2"/>
<path d="M298.35 295 v2"/>
<path d="M298.35 420 v-1.55"/>
<path d="M303.4 47.8 v1.55"/>
<path d="M303.4 171 v2"/>
<path d="M303.4 295 v2"/>
<path d="M303.4 420 v-1.55"/>
<path d="M308.45 47.8 v1.55"/>
<path d="M308.45 171 v2"/>
<path d="M308.45 295 v2"/>
<path d="M308.45 420 v-1.55"/>
<path d="M313.5 47.8 v2.8"/>
<path d="M313.5 169.6 v4.8"/>
<path d="M313.5 293.6 v4.8"/>
<path d="M313.5 420 v-2.8"/>
<path d="M318.55 47.8 v1.55"/>
<path d="M318.55 171 v2"/>
<path d="M318.55 295 v2"/>
<path d="M318.55 420 v-1.55"/>
<path d="M323.6 47.8 v1.55"/>
<path d="M323.6 171 v2"/>
<path d="M323.6 295 v2"/>
<path d="M323.6 420 v-1.55"/>
<path d="M328.65 47.8 v1.55"/>
<path d="M328.65 171 v2"/>
<path d="M328.65 295 v2"/>
<path d="M328.65 420 v-1.55"/>
<path d="M333.7 47.8 v1.55"/>
<path d="M333.7 171 v2"/>
<path d="M333.7 295 v2"/>
<path d="M333.7 420 v-1.55"/>
<path d="M338.75 47.8 v1.55"/>
<path d="M338.75 171 v2"/>
<path d="M338.75 295 v2"/>
<path d="M338.75 420 v-1.55"/>
<path d="M343.81 47.8 v1.55"/>
<path d="M343.81 171 v2"/>
<path d="M343.81 295 v2"/>
<path d="M343.81 420 v-1.55"/>
<path d="M348.86 47.8 v1.55"/>
<path d="M348.86 171 v2"/>
<path d="M348.86 295 v2"/>
<path d="M348.86 420 v-1.55"/>
<path d="M353.91 47.8 v1.55"/>
<path d="M353.91 171 v2"/>
<path d="M353.91 295 v2"/>
<path d="M353.91 420 v-1.55"/>
<path d="M358.96 47.8 v1.55"/>
<path d="M358.96 171 v2"/>
<path d="M358.96 295 v2"/>
<path d="M358.96 420 v-1.55"/>
<path d="M368.14 47.8 v1.55"/>
<path d="M368.14 171 v2"/>
<path d="M368.14 295 v2"/>
<path d="M368.14 420 v-1.55"/>
<path d="M373.19 47.8 v1.55"/>
<path d="M373.19 171 v2"/>
<path d="M373.19 295 v2"/>
<path d="M373.19 420 v-1.55"/>
<path d="M378.24 47.8 v1.55"/>
<path d="M378.24 171 v2"/>
<path d="M378.24 295 v2"/>
<path d="M378.24 420 v-1.55"/>
<path d="M383.29 47.8 v1.55"/>
<path d="M383.29 171 v2"/>
<path d="M383.29 295 v2"/>
<path d="M383.29 420 v-1.55"/>
<path d="M388.35 47.8 v1.55"/>
<path d="M388.35 171 v2"/>
<path d="M388.35 295 v2"/>
<path d="M388.35 420 v-1.55"/>
<path d="M393.4 47.8 v1.55"/>
<path d="M393.4 171 v2"/>
<path d="M393.4 295 v2"/>
<path d="M393.4 420 v-1.55"/>
<path d="M398.45 47.8 v1.55"/>
<path d="M398.45 171 v2"/>
<path d="M398.45 295 v2"/>
<path d="M398.45 420 v-1.55"/>
<path d="M403.5 47.8 v1.55"/>
<path d="M403.5 171 v2"/>
<path d="M403.5 295 v2"/>
<path d="M403.5 420 v-1.55"/>
<path d="M408.55 47.8 v1.55"/>
<path d="M408.55 171 v2"/>
<path d="M408.55 295 v2"/>
<path d="M408.55 420 v-1.55"/>
<path d="M413.6 47.8 v2.8"/>
<path d="M413.6 169.6 v4.8"/>
<path d="M413.6 293.6 v4.8"/>
<path d="M413.6 420 v-2.8"/>
<path d="M418.65 47.8 v1.55"/>
<path d="M418.65 171 v2"/>
<path d="M418.65 295 v2"/>
<path d="M418.65 420 v-1.55"/>
<path d="M423.7 47.8 v1.55"/>
<path d="M423.7 171 v2"/>
<path d="M423.7 295 v2"/>
<path d="M423.7 420 v-1.55"/>
<path d="M428.75 47.8 v1.55"/>
<path d="M428.75 171 v2"/>
<path d="M428.75 295 v2"/>
<path d="M428.75 420 v-1.55"/>
<path d="M433.8 47.8 v1.55"/>
<path d="M433.8 171 v2"/>
<path d="M433.8 295 v2"/>
<path d="M433.8 420 v-1.55"/>
<path d="M438.86 47.8 v1.55"/>
<path d="M438.86 171 v2"/>
<path d="M438.86 295 v2"/>
<path d="M438.86 420 v-1.55"/>
<path d="M443.91 47.8 v1.55"/>
<path d="M443.91 171 v2"/>
<path d="M443.91 295 v2"/>
<path d="M443.91 420 v-1.55"/>
<path d="M448.96 47.8 v1.55"/>
<path d="M448.96 171 v2"/>
<path d="M448.96 295 v2"/>
<path d="M448.96 420 v-1.55"/>
<path d="M454.01 47.8 v1.55"/>
<path d="M454.01 171 v2"/>
<path d="M454.01 295 v2"/>
<path d="M454.01 420 v-1.55"/>
<path d="M459.06 47.8 v1.55"/>
<path d="M459.06 171 v2"/>
<path d="M459.06 295 v2"/>
<path d="M459.06 420 v-1.55"/>
<path d="M464.11 47.8 v2.8"/>
<path d="M464.11 169.6 v4.8"/>
<path d="M464.11 293.6 v4.8"/>
<path d="M464.11 420 v-2.8"/>
<path d="M469.16 47.8 v1.55"/>
<path d="M469.16 171 v2"/>
<path d="M469.16 295 v2"/>
<path d="M469.16 420 v-1.55"/>
<path d="M474.21 47.8 v1.55"/>
<path d="M474.21 171 v2"/>
<path d="M474.21 295 v2"/>
<path d="M474.21 420 v-1.55"/>
<path d="M479.26 47.8 v1.55"/>
<path d="M479.26 171 v2"/>
<path d="M479.26 295 v2"/>
<path d="M479.26 420 v-1.55"/>
<path d="M484.31 47.8 v1.55"/>
<path d="M484.31 171 v2"/>
<path d="M484.31 295 v2"/>
<path d="M484.31 420 v-1.55"/>
<path d="M489.37 47.8 v1.55"/>
<path d="M489.37 171 v2"/>
<path d="M489.37 295 v2"/>
<path d="M489.37 420 v-1.55"/>
<path d="M494.42 47.8 v1.55"/>
<path d="M494.42 171 v2"/>
<path d="M494.42 295 v2"/>
<path d="M494.42 420 v-1.55"/>
<path d="M499.47 47.8 v1.55"/>
<path d="M499.47 171 v2"/>
<path d="M499.47 295 v2"/>
<path d="M499.47 420 v-1.55"/>
<path d="M504.52 47.8 v1.55"/>
<path d="M504.52 171 v2"/>
<path d="M504.52 295 v2"/>
<path d="M504.52 420 v-1.55"/>
<path d="M509.57 47.8 v1.55"/>
<path d="M509.57 171 v2"/>
<path d="M509.57 295 v2"/>
<path d="M509.57 420 v-1.55"/>
<path d="M514.62 47.8 v2.8"/>
<path d="M514.62 169.6 v4.8"/>
<path d="M514.62 293.6 v4.8"/>
<path d="M514.62 420 v-2.8"/>
<path d="M519.67 47.8 v1.55"/>
<path d="M519.67 171 v2"/>
<path d="M519.67 295 v2"/>
<path d="M519.67 420 v-1.55"/>
<path d="M524.72 47.8 v1.55"/>
<path d="M524.72 171 v2"/>
<path d="M524.72 295 v2"/>
<path d="M524.72 420 v-1.55"/>
<path d="M529.77 47.8 v1.55"/>
<path d="M529.77 171 v2"/>
<path d="M529.77 295 v2"/>
<path d="M529.77 420 v-1.55"/>
<path d="M534.82 47.8 v1.55"/>
<path d="M534.82 171 v2"/>
<path d="M534.82 295 v2"/>
<path d="M534.82 420 v-1.55"/>
<path d="M539.88 47.8 v1.55"/>
<path d="M539.88 171 v2"/>
<path d="M539.88 295 v2"/>
<path d="M539.88 420 v-1.55"/>
<path d="M544.93 47.8 v1.55"/>
<path d="M544.93 171 v2"/>
<path d="M544.93 295 v2"/>
<path d="M544.93 420 v-1.55"/>
<path d="M549.98 47.8 v1.55"/>
<path d="M549.98 171 v2"/>
<path d="M549.98 295 v2"/>
<path d="M549.98 420 v-1.55"/>
<path d="M555.03 47.8 v1.55"/>
<path d="M555.03 171 v2"/>
<path d="M555.03 295 v2"/>
<path d="M555.03 420 v-1.55"/>
<path d="M560.08 47.8 v1.55"/>
<path d="M560.08 171 v2"/>
<path d="M560.08 295 v2"/>
<path d="M560.08 420 v-1.55"/>
<path d="M565.13 47.8 v2.8"/>
<path d="M565.13 169.6 v4.8"/>
<path d="M565.13 293.6 v4.8"/>
<path d="M565.13 420 v-2.8"/>
<path d="M570.18 47.8 v1.55"/>
<path d="M570.18 171 v2"/>
<path d="M570.18 295 v2"/>
<path d="M570.18 420 v-1.55"/>
<path d="M575.23 47.8 v1.55"/>
<path d="M575.23 171 v2"/>
<path d="M575.23 295 v2"/>
<path d="M575.23 420 v-1.55"/>
<path d="M580.28 47.8 v1.55"/>
<path d="M580.28 171 v2"/>
<path d="M580.28 295 v2"/>
<path d="M580.28 420 v-1.55"/>
<path d="M585.33 47.8 v1.55"/>
<path d="M585.33 171 v2"/>
<path d="M585.33 295 v2"/>
<path d="M585.33 420 v-1.55"/>
<path d="M590.38 47.8 v1.55"/>
<path d="M590.38 171 v2"/>
<path d="M590.38 295 v2"/>
<path d="M590.38 420 v-1.55"/>
<path d="M595.44 47.8 v1.55"/>
<path d="M595.44 171 v2"/>
<path d="M595.44 295 v2"/>
<path d="M595.44 420 v-1.55"/>
<path d="M600.49 47.8 v1.55"/>
<path d="M600.49 171 v2"/>
<path d="M600.49 295 v2"/>
<path d="M600.49 420 v-1.55"/>
<path d="M605.54 47.8 v1.55"/>
<path d="M605.54 171 v2"/>
<path d="M605.54 295 v2"/>
<path d="M605.54 420 v-1.55"/>
<path d="M610.59 47.8 v1.55"/>
<path d="M610.59 171 v2"/>
<path d="M610.59 295 v2"/>
<path d="M610.59 420 v-1.55"/>
<path d="M615.64 47.8 v2.8"/>
<path d="M615.64 169.6 v4.8"/>
<path d="M615.64 293.6 v4.8"/>
<path d="M615.64 420 v-2.8"/>
<path d="M620.69 47.8 v1.55"/>
<path d="M620.69 171 v2"/>
<path d="M620.69 295 v2"/>
<path d="M620.69 420 v-1.55"/>
<path d="M625.74 47.8 v1.55"/>
<path d="M625.74 171 v2"/>
<path d="M625.74 295 v2"/>
<path d="M625.74 420 v-1.55"/>
<path d="M630.79 47.8 v1.55"/>
<path d="M630.79 171 v2"/>
<path d="M630.79 295 v2"/>
<path d="M630.79 420 v-1.55"/>
<path d="M635.84 47.8 v1.55"/>
<path d="M635.84 171 v2"/>
<path d="M635.84 295 v2"/>
<path d="M635.84 420 v-1.55"/>
<path d="M640.89 47.8 v1.55"/>
<path d="M640.89 171 v2"/>
<path d="M640.89 295 v2"/>
<path d="M640.89 420 v-1.55"/>
<path d="M645.95 47.8 v1.55"/>
<path d="M645.95 171 v2"/>
<path d="M645.95 295 v2"/>
<path d="M645.95 420 v-1.55"/>
<path d="M651 47.8 v1.55"/>
<path d="M651 171 v2"/>
<path d="M651 295 v2"/>
<path d="M651 420 v-1.55"/>
<path d="M656.05 47.8 v1.55"/>
<path d="M656.05 171 v2"/>
<path d="M656.05 295 v2"/>
<path d="M656.05 420 v-1.55"/>
<path d="M661.1 47.8 v1.55"/>
<path d="M661.1 171 v2"/>
<path d="M661.1 295 v2"/>
<path d="M661.1 420 v-1.55"/>
</g>
<g stroke="#000000" stroke-width="0.62" fill="none">
<path d="M61.46 158.11 h3"/>
<path d="M360.55 158.11 h6"/>
<path d="M666 158.11 h-3" stroke-width="0.8"/>
<path d="M61.46 147.44 h3"/>
<path d="M360.55 147.44 h6"/>
<path d="M666 147.44 h-3" stroke-width="0.8"/>
<path d="M61.46 138.73 h3"/>
<path d="M360.55 138.73 h6"/>
<path d="M666 138.73 h-3" stroke-width="0.8"/>
<path d="M61.46 131.35 h3"/>
<path d="M360.55 131.35 h6"/>
<path d="M666 131.35 h-3" stroke-width="0.8"/>
<path d="M61.46 124.97 h3"/>
<path d="M360.55 124.97 h6"/>
<path d="M666 124.97 h-3" stroke-width="0.8"/>
<path d="M61.46 119.34 h3"/>
<path d="M360.55 119.34 h6"/>
<path d="M666 119.34 h-3" stroke-width="0.8"/>
<path d="M61.46 114.3 h6"/>
<path d="M357.55 114.3 h12"/>
<path d="M666 114.3 h-6" stroke-width="0.8"/>
<path d="M61.46 81.16 h3"/>
<path d="M360.55 81.16 h6"/>
<path d="M666 81.16 h-3" stroke-width="0.8"/>
<path d="M61.46 61.77 h3"/>
<path d="M360.55 61.77 h6"/>
<path d="M666 61.77 h-3" stroke-width="0.8"/>
<path d="M61.46 280.13 h3"/>
<path d="M360.55 280.13 h6"/>
<path d="M666 280.13 h-3" stroke-width="0.8"/>
<path d="M61.46 269.06 h3"/>
<path d="M360.55 269.06 h6"/>
<path d="M666 269.06 h-3" stroke-width="0.8"/>
<path d="M61.46 260.47 h3"/>
<path d="M360.55 260.47 h6"/>
<path d="M666 260.47 h-3" stroke-width="0.8"/>
<path d="M61.46 253.46 h3"/>
<path d="M360.55 253.46 h6"/>
<path d="M666 253.46 h-3" stroke-width="0.8"/>
<path d="M61.46 247.52 h3"/>
<path d="M360.55 247.52 h6"/>
<path d="M666 247.52 h-3" stroke-width="0.8"/>
<path d="M61.46 242.39 h3"/>
<path d="M360.55 242.39 h6"/>
<path d="M666 242.39 h-3" stroke-width="0.8"/>
<path d="M61.46 237.85 h3"/>
<path d="M360.55 237.85 h6"/>
<path d="M666 237.85 h-3" stroke-width="0.8"/>
<path d="M61.46 233.8 h6"/>
<path d="M357.55 233.8 h12"/>
<path d="M666 233.8 h-6" stroke-width="0.8"/>
<path d="M61.46 207.13 h3"/>
<path d="M360.55 207.13 h6"/>
<path d="M666 207.13 h-3" stroke-width="0.8"/>
<path d="M61.46 191.53 h3"/>
<path d="M360.55 191.53 h6"/>
<path d="M666 191.53 h-3" stroke-width="0.8"/>
<path d="M61.46 180.46 h3"/>
<path d="M360.55 180.46 h6"/>
<path d="M666 180.46 h-3" stroke-width="0.8"/>
<path d="M61.46 403.5 h3"/>
<path d="M360.55 403.5 h6"/>
<path d="M666 403.5 h-3" stroke-width="0.8"/>
<path d="M61.46 392.05 h3"/>
<path d="M360.55 392.05 h6"/>
<path d="M666 392.05 h-3" stroke-width="0.8"/>
<path d="M61.46 383.17 h3"/>
<path d="M360.55 383.17 h6"/>
<path d="M666 383.17 h-3" stroke-width="0.8"/>
<path d="M61.46 375.92 h3"/>
<path d="M360.55 375.92 h6"/>
<path d="M666 375.92 h-3" stroke-width="0.8"/>
<path d="M61.46 369.79 h3"/>
<path d="M360.55 369.79 h6"/>
<path d="M666 369.79 h-3" stroke-width="0.8"/>
<path d="M61.46 364.48 h3"/>
<path d="M360.55 364.48 h6"/>
<path d="M666 364.48 h-3" stroke-width="0.8"/>
<path d="M61.46 359.79 h3"/>
<path d="M360.55 359.79 h6"/>
<path d="M666 359.79 h-3" stroke-width="0.8"/>
<path d="M61.46 355.6 h6"/>
<path d="M357.55 355.6 h12"/>
<path d="M666 355.6 h-6" stroke-width="0.8"/>
<path d="M61.46 328.03 h3"/>
<path d="M360.55 328.03 h6"/>
<path d="M666 328.03 h-3" stroke-width="0.8"/>
<path d="M61.46 311.9 h3"/>
<path d="M360.55 311.9 h6"/>
<path d="M666 311.9 h-3" stroke-width="0.8"/>
<path d="M61.46 300.45 h3"/>
<path d="M360.55 300.45 h6"/>
<path d="M666 300.45 h-3" stroke-width="0.8"/>
</g>
<g stroke="#222" stroke-width="0.75" fill="none">
<path d="M666 96.3 h-6"/>
<path d="M666 106.7 h-2.5"/>
<path d="M666 210 h-6"/>
<path d="M666 217.3 h-3"/>
<path d="M666 225.7 h-2.5"/>
<path d="M666 332.2 h-6"/>
<path d="M666 340.7 h-3"/>
<path d="M666 348.5 h-2.5"/>
</g>
</svg>
</body></html>
